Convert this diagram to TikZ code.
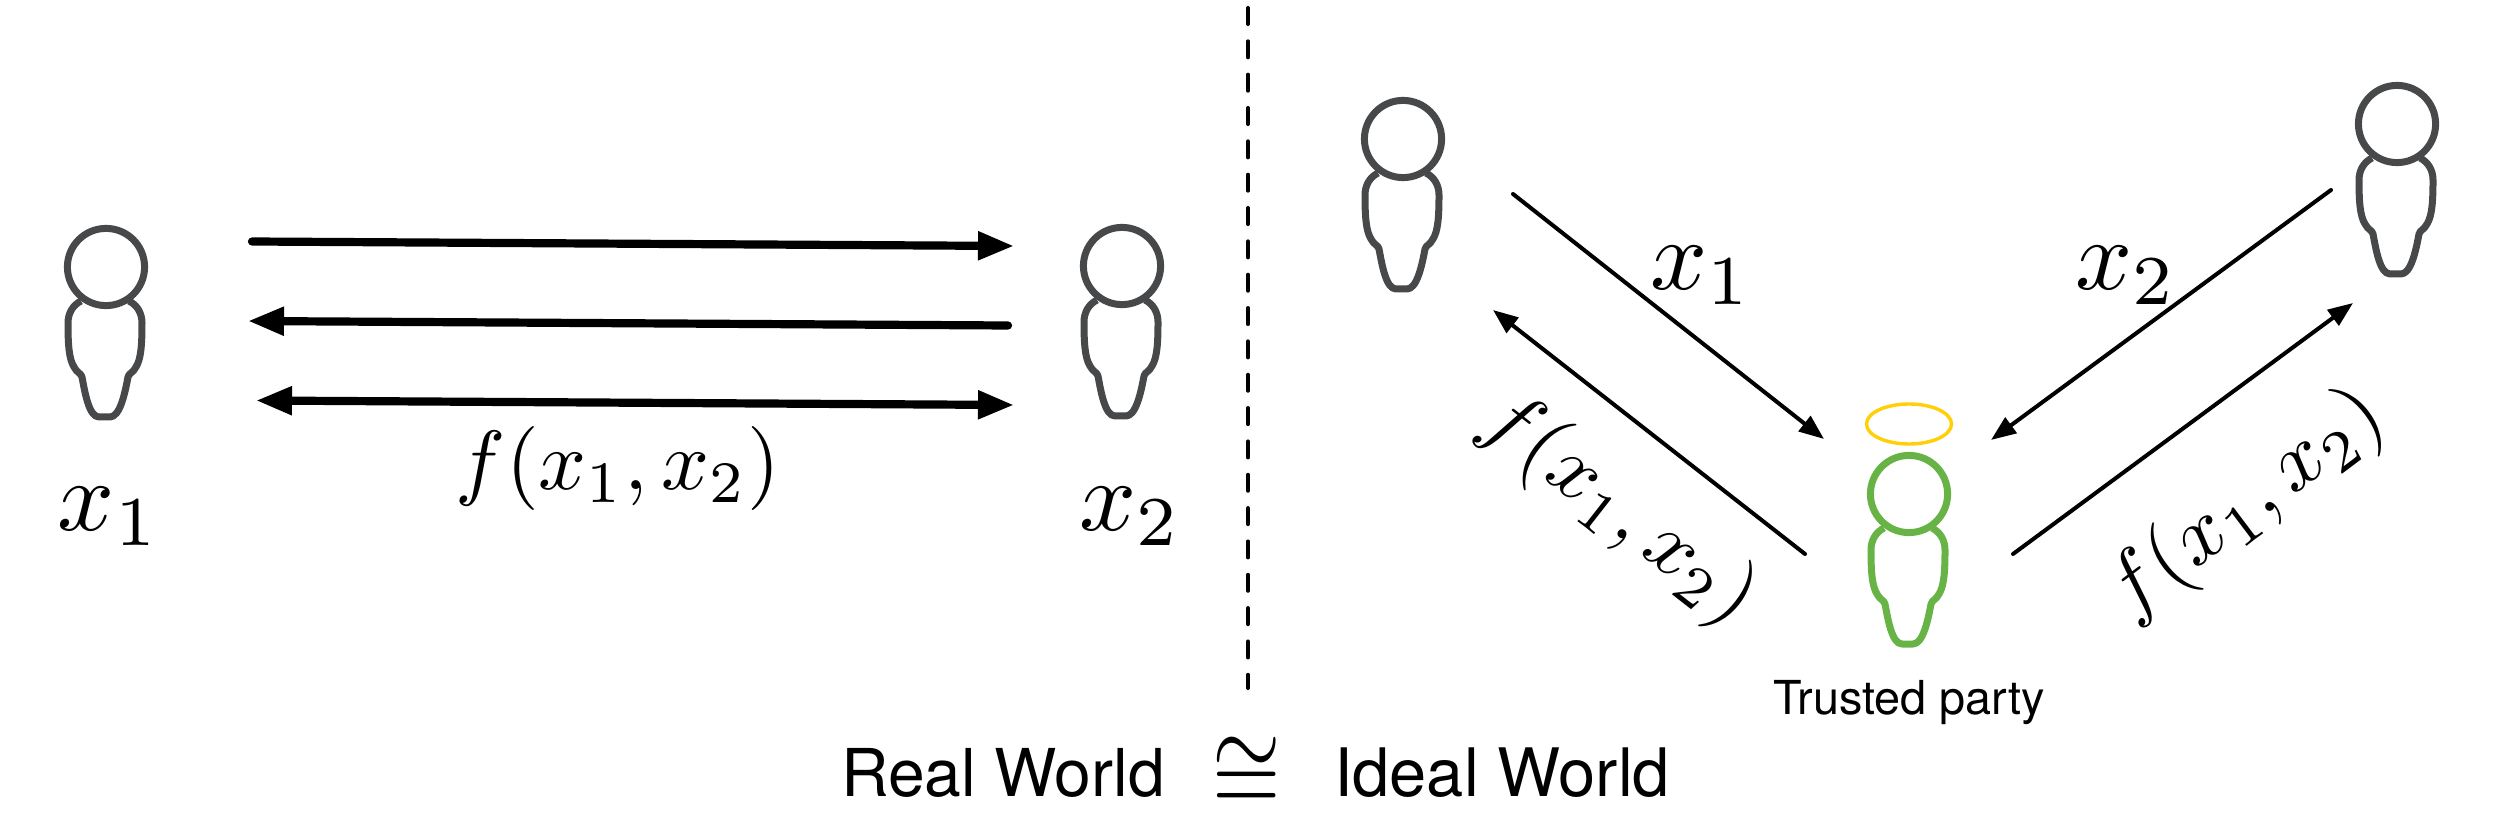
\documentclass[tikz,border=0pt]{standalone}
\usepackage{fontspec}
\usepackage{amssymb}
\setmainfont{TeX Gyre Heros}
\usetikzlibrary{arrows.meta,shapes.geometric}
\tikzset{
  px/.style={x=0.5pt,y=-0.5pt},
  thickarrow/.style={line width=4.1pt,line cap=round,-{Triangle[length=18pt,width=13.5pt]}},
  thickboth/.style={line width=4.1pt,{Triangle[length=18pt,width=13.5pt]}-{Triangle[length=18pt,width=13.5pt]}},
  thinarrow/.style={line width=2pt,line cap=round,-{Triangle[length=12.5pt,width=9.5pt]}},
  mathlabel/.style={inner sep=0pt,text=black},
  pics/person/.style={code={
    \draw[line width=3.5pt,draw=#1,line join=round] (-25,34) .. controls (-33,38) and (-38,46) .. (-38,56)
      .. controls (-38,78) and (-37,92) .. (-32,100)
      .. controls (-29,106) and (-25,106) .. (-24,110)
      .. controls (-21,126) and (-17,150) .. (-7,150)
      -- (4,150)
      .. controls (14,150) and (19,126) .. (22,110)
      .. controls (23,106) and (27,106) .. (30,100)
      .. controls (35,92) and (36,78) .. (36,56)
      .. controls (36,46) and (31,38) .. (23,34);
    \draw[line width=3.5pt,draw=#1] (0,0) circle[radius=19.3pt];
  }}
}
\definecolor{persongray}{HTML}{474849}
\definecolor{trustgreen}{HTML}{67B346}
\definecolor{halo}{HTML}{FFD008}
\begin{document}
\begin{tikzpicture}[px]
\useasboundingbox (0,0) rectangle (2499,833);
\pic (pa) at (106,267) {person=persongray};
\pic (pb) at (1122,266) {person=persongray};
\pic (pc) at (1403,139) {person=persongray};
\pic (pd) at (2397,124) {person=persongray};
\pic (pt) at (1909,494) {person=trustgreen};
\node[draw=halo,line width=1.7pt,ellipse,minimum width=42.5pt,minimum height=20pt,inner sep=0pt,outer sep=0pt] (haloring) at (1909,424) {};
\coordinate (a1) at (252,241.5);\coordinate (a2) at (1014,246);
\coordinate (b1) at (1008,325.5);\coordinate (b2) at (248,321);
\coordinate (c1) at (256,400.5);\coordinate (c2) at (1014,405);
\coordinate (d1) at (1248,8);\coordinate (d2) at (1248,688);
\coordinate (e1) at (1513,194);\coordinate (e2) at (1824,439);
\coordinate (f1) at (1805,554);\coordinate (f2) at (1493,310);
\coordinate (g1) at (2331,190);\coordinate (g2) at (1991,440);
\coordinate (h1) at (2013,554);\coordinate (h2) at (2353,303);
\draw[thickarrow] (a1) -- (a2);
\draw[thickarrow] (b1) -- (b2);
\draw[thickboth] (c1) -- (c2);
\draw[line width=2pt,line cap=round,dash pattern=on 8pt off 8.67pt] (d1) -- (d2);
\draw[thinarrow] (e1) -- (e2);
\draw[thinarrow] (f1) -- (f2);
\draw[thinarrow] (g1) -- (g2);
\draw[thinarrow] (h1) -- (h2);
\node[mathlabel,scale=5] (lx1) at (109,516) {$x_1$};
\node[mathlabel,scale=5] (lx2) at (1130,516) {$x_2$};
\node[mathlabel,scale=4.2] (lf) at (618,469) {$f(x_1,x_2)$};
\node[mathlabel,scale=5] (rx1) at (1701,275) {$x_1$};
\node[mathlabel,scale=5] (rx2) at (2126,275) {$x_2$};
\node[mathlabel,scale=4.2,rotate=-38] (rfl) at (1618,510) {$f(x_1,x_2)$};
\node[mathlabel,scale=4.2,rotate=37] (rfr) at (2246,505) {$f(x_1,x_2)$};
\node[mathlabel,font=\fontsize{23.4}{26}\selectfont] (tp) at (1909,703) {Trusted party};
\node[mathlabel,font=\fontsize{33}{36}\selectfont] (rw) at (1003,773) {Real World};
\node[mathlabel,xscale=4.4,yscale=5.5] (cong) at (1247,775) {$\cong$};
\node[mathlabel,font=\fontsize{33.4}{36}\selectfont] (iw) at (1502,773) {Ideal World};
\end{tikzpicture}
\end{document}
